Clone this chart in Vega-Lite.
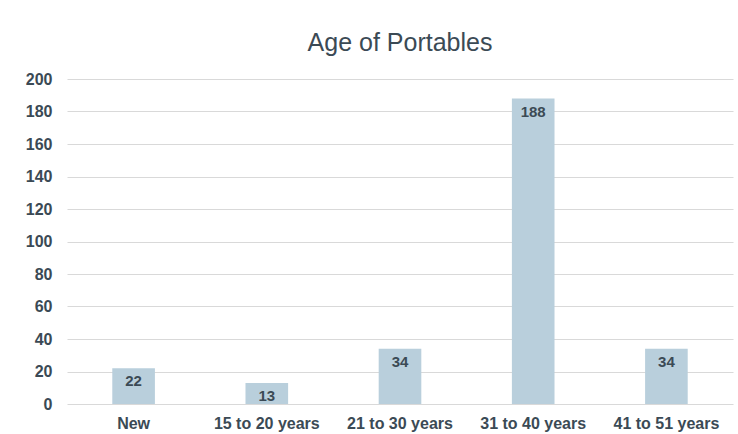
{
  "$schema": "https://vega.github.io/schema/vega-lite/v6.json",
  "autosize": "none",
  "width": 666,
  "height": 325,
  "padding": {"left": 67, "top": 79, "right": 5, "bottom": 30},
  "background": "white",
  "title": {
    "text": "Age of Portables",
    "font": "Liberation Sans",
    "fontSize": 25,
    "fontWeight": "normal",
    "color": "#3b4a55",
    "anchor": "middle",
    "offset": 15
  },
  "data": {
    "values": [
      {"age": "New", "count": 22},
      {"age": "15 to 20 years", "count": 13},
      {"age": "21 to 30 years", "count": 34},
      {"age": "31 to 40 years", "count": 188},
      {"age": "41 to 51 years", "count": 34}
    ]
  },
  "encoding": {
    "x": {
      "field": "age",
      "type": "nominal",
      "sort": null,
      "scale": {"paddingInner": 0.68, "paddingOuter": 0.34},
      "axis": {
        "title": null,
        "labelAngle": 0,
        "labelFont": "Liberation Sans",
        "labelFontSize": 16,
        "labelFontWeight": "bold",
        "labelColor": "#3b4a55",
        "labelPadding": 11,
        "labelOverlap": false,
        "domain": false,
        "ticks": false
      }
    },
    "y": {
      "field": "count",
      "type": "quantitative",
      "scale": {"domain": [0, 200], "nice": false},
      "axis": {
        "title": null,
        "values": [0, 20, 40, 60, 80, 100, 120, 140, 160, 180, 200],
        "labelFont": "Liberation Sans",
        "labelFontSize": 16,
        "labelFontWeight": "bold",
        "labelColor": "#3b4a55",
        "labelPadding": 15,
        "domain": false,
        "ticks": false,
        "gridColor": "#d9d9d9",
        "gridWidth": 1
      }
    }
  },
  "layer": [
    {"mark": {"type": "bar", "color": "#b9cfdc"}},
    {
      "mark": {
        "type": "text",
        "dy": 13,
        "baseline": "middle",
        "font": "Liberation Sans",
        "fontSize": 15,
        "fontWeight": "bold",
        "color": "#3b4a55"
      },
      "encoding": {"text": {"field": "count", "type": "quantitative"}}
    }
  ],
  "config": {"view": {"stroke": null}}
}
